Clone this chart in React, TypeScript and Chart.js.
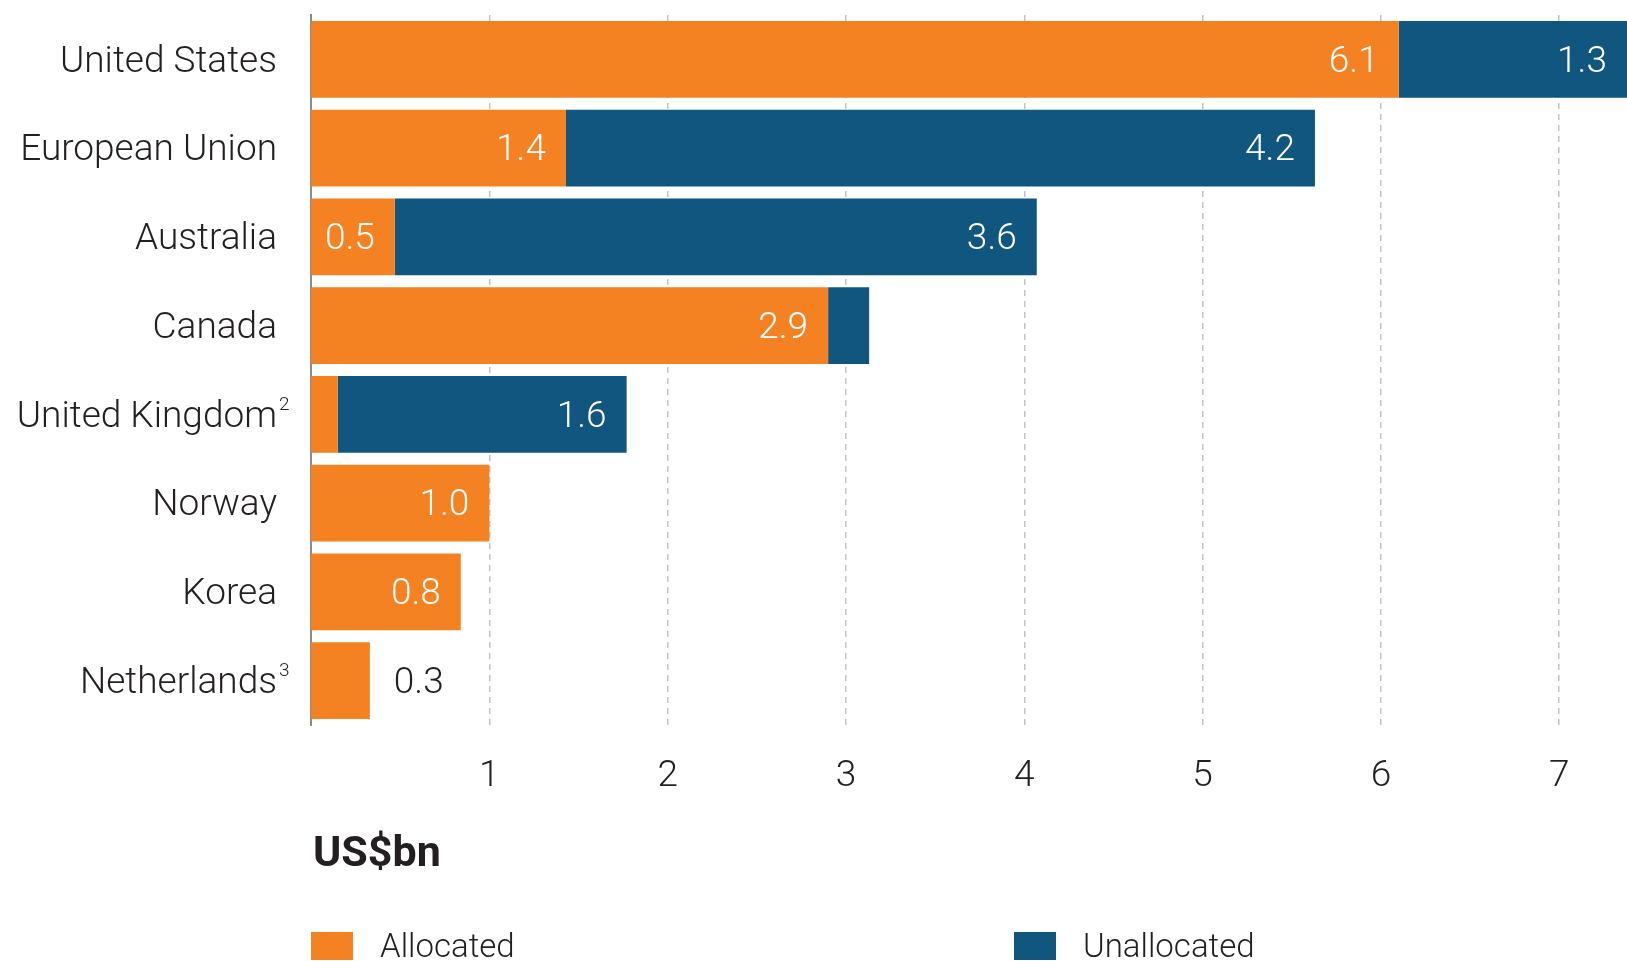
import React, { useEffect, useRef } from "react";
import { Chart, registerables } from "chart.js";

Chart.register(...registerables);

// ---- data ----
const CATEGORIES = [
  "United States",
  "European Union",
  "Australia",
  "Canada",
  "United Kingdom",
  "Norway",
  "Korea",
  "Netherlands",
];
const FOOTNOTES = ["", "", "", "", "2", "", "", "3"];
const ALLOCATED = [6.1, 1.43, 0.47, 2.9, 0.15, 1.0, 0.84, 0.33];
const UNALLOCATED = [1.3, 4.2, 3.6, 0.23, 1.62, 0, 0, 0];
const ALLOCATED_LABELS = ["6.1", "1.4", "0.5", "2.9", "", "1.0", "0.8", "0.3"];
const UNALLOCATED_LABELS = ["1.3", "4.2", "3.6", "", "1.6", "", "", ""];
const X_TICKS = [1, 2, 3, 4, 5, 6, 7];
const X_MAX = 7.38;
const SERIES_NAMES = ["Allocated", "Unallocated"];
const UNIT_LABEL = "US$bn";

// ---- styles ----
const ORANGE = "#F48222";
const BLUE = "#10567F";
const DARK = "#231F20";
const FONT_FAMILY = "Roboto, 'Liberation Sans', sans-serif";
const W = 1627;
const H = 961;

const valueLabelPlugin = {
  id: "valueLabels",
  afterDatasetsDraw(chart: any) {
    const ctx = chart.ctx;
    ctx.save();
    ctx.font = `300 37px ${FONT_FAMILY}`;
    ctx.textBaseline = "middle";
    chart.data.datasets.forEach((ds: any, di: number) => {
      const meta = chart.getDatasetMeta(di);
      const labels: string[] = ds.valueLabels || [];
      meta.data.forEach((bar: any, i: number) => {
        const t = labels[i];
        if (!t) return;
        const p = bar.getProps(["x", "y", "base"], true);
        const end = Math.min(p.x, chart.chartArea.right);
        const w = end - p.base;
        const tw = ctx.measureText(t).width;
        if (tw + 24 <= w) {
          ctx.fillStyle = "#ffffff";
          ctx.textAlign = "right";
          ctx.fillText(t, end - 20, p.y + 3);
        } else {
          ctx.fillStyle = DARK;
          ctx.textAlign = "left";
          ctx.fillText(t, p.x + 24, p.y + 3);
        }
      });
    });
    ctx.restore();
  },
};

const extrasPlugin = {
  id: "extras",
  afterDraw(chart: any) {
    const ctx = chart.ctx;
    const yScale = chart.scales.y;
    ctx.save();
    // footnote superscripts on category labels
    ctx.font = `300 19px ${FONT_FAMILY}`;
    ctx.fillStyle = DARK;
    ctx.textAlign = "left";
    ctx.textBaseline = "middle";
    FOOTNOTES.forEach((f, i) => {
      if (!f) return;
      const y = yScale.getPixelForValue(i);
      ctx.fillText(f, yScale.right - 32, y - 9);
    });
    // unit label
    ctx.font = `bold 43px ${FONT_FAMILY}`;
    ctx.fillStyle = DARK;
    ctx.textBaseline = "middle";
    ctx.fillText(UNIT_LABEL, chart.chartArea.left + 2, 855);
    // legend
    const items = chart.data.datasets.map((ds: any) => ({ label: ds.label, color: ds.backgroundColor }));
    const xs = [chart.chartArea.left, 1014];
    ctx.font = `300 33px ${FONT_FAMILY}`;
    items.forEach((it: any, i: number) => {
      const x = xs[i];
      ctx.fillStyle = it.color;
      ctx.fillRect(x, 932, 42, 28);
      ctx.fillStyle = DARK;
      ctx.fillText(it.label, x + 69, 949);
    });
    ctx.restore();
  },
};

export default function App() {
  const ref = useRef<HTMLCanvasElement | null>(null);

  useEffect(() => {
    if (!ref.current) return;
    const chart = new Chart(ref.current, {
      type: "bar",
      data: {
        labels: CATEGORIES,
        datasets: [
          {
            label: SERIES_NAMES[0],
            data: ALLOCATED,
            backgroundColor: ORANGE,
            borderWidth: 0,
            categoryPercentage: 1,
            barPercentage: 0.864,
            valueLabels: ALLOCATED_LABELS,
          } as any,
          {
            label: SERIES_NAMES[1],
            data: UNALLOCATED,
            backgroundColor: BLUE,
            borderWidth: 0,
            categoryPercentage: 1,
            barPercentage: 0.864,
            valueLabels: UNALLOCATED_LABELS,
          } as any,
        ],
      },
      options: {
        indexAxis: "y",
        animation: false,
        responsive: false,
        maintainAspectRatio: false,
        layout: { padding: { top: 15, left: 0, right: 0, bottom: 0 } },
        plugins: {
          legend: { display: false },
          tooltip: { enabled: false },
          title: { display: false },
        },
        scales: {
          x: {
            type: "linear",
            stacked: true,
            min: 0,
            max: X_MAX,
            afterBuildTicks: (s: any) => {
              s.ticks = X_TICKS.map((v) => ({ value: v }));
            },
            afterFit: (s: any) => {
              s.height = 236;
              s.paddingLeft = 0;
              s.paddingRight = 0;
            },
            grid: {
              display: true,
              drawTicks: false,
              color: "#c4c4c4",
              lineWidth: 1.5,
            },
            border: { display: false, dash: [6, 5] },
            ticks: {
              padding: 30,
              color: DARK,
              font: { family: FONT_FAMILY, size: 37, weight: 300 as any },
              maxRotation: 0,
              autoSkip: false,
            },
          },
          y: {
            stacked: true,
            afterFit: (s: any) => {
              s.width = 311;
              s.paddingTop = 0;
              s.paddingBottom = 0;
            },
            grid: { display: false, drawTicks: false },
            border: { display: true, color: "#8c8c8c", width: 2 },
            ticks: {
              padding: 34,
              labelOffset: 3,
              color: DARK,
              font: { family: FONT_FAMILY, size: 37, weight: 300 as any },
              autoSkip: false,
            },
          },
        },
      },
      plugins: [valueLabelPlugin, extrasPlugin],
    });
    return () => chart.destroy();
  }, []);

  return (
    <div style={{ position: "fixed", left: 0, top: 0, width: W, height: H, background: "#fff" }}>
      <canvas ref={ref} width={W} height={H} style={{ display: "block", width: W, height: H }} />
    </div>
  );
}
